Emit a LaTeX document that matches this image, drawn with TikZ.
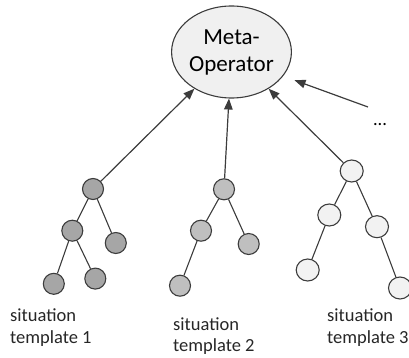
\documentclass[tikz,border=0pt]{standalone}
\usepackage{fontspec}
\setmainfont{Carlito}
\usetikzlibrary{shapes.geometric,arrows.meta}
\definecolor{inkgray}{HTML}{3C3C3C}
\definecolor{fillA}{HTML}{A6A6A6}
\definecolor{fillB}{HTML}{BFBFBF}
\definecolor{fillC}{HTML}{F2F2F2}
\definecolor{metafill}{HTML}{F0F0F0}
\tikzset{
  treenode/.style={ellipse, draw=inkgray, line width=1.1pt, inner sep=0pt,
    minimum width=21pt, minimum height=21pt},
  darknode/.style={treenode, fill=fillA},
  midnode/.style={treenode, fill=fillB},
  lightnode/.style={treenode, fill=fillC, minimum width=23pt, minimum height=22pt},
  branch/.style={draw=inkgray, line width=1.1pt},
  toMeta/.style={draw=inkgray, line width=1.2pt, -{Triangle[length=11pt,width=8.5pt]}},
  caption/.style={anchor=base west, align=left, inner sep=0pt,
    font=\fontsize{18.5}{21.5}\selectfont, text=black!85}
}
\begin{document}
\begin{tikzpicture}[x=1pt, y=-1pt]
\useasboundingbox (0,0) rectangle (409,358);

% central meta-operator
\node[ellipse, draw=inkgray, line width=1.1pt, fill=metafill, inner sep=0pt,
  minimum width=107pt, minimum height=92pt, align=center,
  font=\fontsize{23}{27}\selectfont] (meta) at (231.5,52) {Meta-\\Operator};

% template 1
\node[darknode] (a0) at (93,189) {};
\node[darknode] (a1) at (72.3,230.7) {};
\node[darknode] (a2) at (115.8,243) {};
\node[darknode] (a3) at (53.8,283.8) {};
\node[darknode] (a4) at (95.3,278.6) {};
\draw[branch] (a0) -- (a1) (a0) -- (a2) (a1) -- (a3) (a1) -- (a4);

% template 2
\node[midnode] (b0) at (224,189.3) {};
\node[midnode] (b1) at (201,230.7) {};
\node[midnode] (b2) at (248.7,244) {};
\node[midnode] (b3) at (180,285.7) {};
\draw[branch] (b0) -- (b1) (b0) -- (b2) (b1) -- (b3);

% template 3
\node[lightnode] (c0) at (351.7,171) {};
\node[lightnode] (c1) at (329.3,215) {};
\node[lightnode] (c2) at (377,226.7) {};
\node[lightnode] (c3) at (307.7,270) {};
\node[lightnode] (c4) at (400,288) {};
\draw[branch] (c0) -- (c1) (c0) -- (c2) (c1) -- (c3) (c2) -- (c4);

% arrows up to the meta-operator
\draw[toMeta] (a0) -- (meta);
\draw[toMeta] (b0) -- (meta);
\draw[toMeta] (c0) -- (meta);
\coordinate (more) at (368,107);
\draw[toMeta, shorten >=12pt] (more) -- (meta.-25);
\node[font=\fontsize{18.5}{21.5}\selectfont, inner sep=0pt] (dots) at (380,125) {...};

% captions (anchored at the baseline of the second line)
\node[caption] (l1) at (10,343.3) {situation\\template 1};
\node[caption] (l2) at (173,351.7) {situation\\template 2};
\node[caption] (l3) at (327,343.3) {situation\\template 3};
\end{tikzpicture}
\end{document}
